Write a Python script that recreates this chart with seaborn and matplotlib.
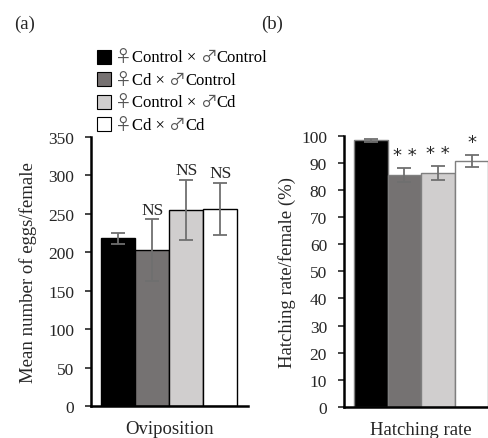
import matplotlib
matplotlib.use("Agg")
import matplotlib.pyplot as plt
import pandas as pd
import seaborn as sns
from matplotlib.offsetbox import AnchoredOffsetbox, DrawingArea, HPacker, TextArea, VPacker
from matplotlib.patches import Rectangle

groups = ["\u2640Control \u00d7 \u2642Control", "\u2640Cd \u00d7 \u2642Control",
          "\u2640Control \u00d7 \u2642Cd", "\u2640Cd \u00d7 \u2642Cd"]
colors = ["#000000", "#767171", "#d0cece", "#ffffff"]

eggs_mean = [218, 203, 255, 256]
eggs_err = [7, 40, 39, 34]
eggs_marks = ["", "NS", "NS", "NS"]

hatch_mean = [98.4, 85.6, 86.3, 90.8]
hatch_err = [0.5, 2.7, 2.5, 2.2]
hatch_marks = ["", "* *", "* *", "*"]

SERIF = ["Liberation Serif", "DejaVu Serif"]
SYMBOL = ["Noto Sans CJK JP", "DejaVu Sans"]

sns.set_style("white")
plt.rcParams["font.family"] = SERIF
plt.rcParams["font.size"] = 12.5

fig = plt.figure(figsize=(4.89, 4.39), dpi=100)
ax1 = fig.add_axes([0.186, 0.073, 0.321, 0.613])
ax2 = fig.add_axes([0.703, 0.071, 0.317, 0.617])


def draw(ax, cat, means, errs, marks, edge, ylim, step, ylabel, mark_pad, ylabelpad):
    df = pd.DataFrame({"cat": cat, "group": groups, "value": means})
    sns.barplot(data=df, x="cat", y="value", hue="group", palette=colors,
                hue_order=groups, errorbar=None, ax=ax, width=0.8,
                edgecolor=edge, linewidth=1.0, legend=False)
    bars = ax.patches[:len(groups)]
    for bar, m, e, t in zip(bars, means, errs, marks):
        xc = bar.get_x() + bar.get_width() / 2
        ax.errorbar(xc, m, yerr=e, color="#6f6f6f", capsize=5, elinewidth=1.3,
                    capthick=1.3, zorder=3)
        if t == "NS":
            ax.text(xc, m + e + mark_pad, t, ha="center", va="bottom", fontsize=12.5)
        elif t:
            # asterisks in a bolder sans face, as in the original
            ax.text(xc, m + e + mark_pad, t, ha="center", va="bottom",
                    fontsize=13, family="DejaVu Sans")
    ax.set_xlim(-0.462, 0.462)
    ax.set_ylim(*ylim)
    ax.set_yticks(range(0, ylim[1] + 1, step))
    ax.set_xticks([])
    ax.set_xlabel(cat[0], labelpad=10, fontsize=13.5)
    ax.set_ylabel(ylabel, labelpad=ylabelpad, fontsize=13.5)
    for s in ["top", "right"]:
        ax.spines[s].set_visible(False)
    for s in ["left", "bottom"]:
        ax.spines[s].set_linewidth(1.8)
        ax.spines[s].set_color("black")
    ax.tick_params(axis="y", left=True, direction="out", length=4, width=1.2,
                   pad=8, labelsize=12.5)


draw(ax1, ["Oviposition"] * 4, eggs_mean, eggs_err, eggs_marks, "black",
     (0, 350), 50, "Mean number of eggs/female", 2, 8)
draw(ax2, ["Hatching rate"] * 4, hatch_mean, hatch_err, hatch_marks, "#7f7f7f",
     (0, 100), 10, "Hatching rate/female (%)", 1.5, 4)

fig.text(0.028, 0.935, "(a)", fontsize=13.5)
fig.text(0.535, 0.935, "(b)", fontsize=13.5)


# legend built from text runs so the sex symbols can use another font
def split_runs(label):
    runs, cur, cur_sym = [], "", None
    for ch in label:
        sym = ch in "\u2640\u2642"
        if cur and sym != cur_sym:
            runs.append((cur, cur_sym))
            cur = ""
        cur += ch
        cur_sym = sym
    runs.append((cur, cur_sym))
    return runs


rows = []
for label, c in zip(groups, colors):
    box = DrawingArea(10, 10)
    box.add_artist(Rectangle((0, 0), 10, 10, facecolor=c, edgecolor="black", linewidth=0.8))
    parts = [TextArea(txt, textprops=dict(family=SYMBOL if sym else SERIF,
                                          size=12, color="#555555" if sym else "black"))
             for txt, sym in split_runs(label)]
    text = HPacker(children=parts, align="baseline", pad=0, sep=0)
    rows.append(HPacker(children=[box, text], align="center", pad=0, sep=3))

legend = AnchoredOffsetbox(loc="upper left", child=VPacker(children=rows, align="left", pad=0, sep=4),
                           bbox_to_anchor=(0.198, 0.888), bbox_transform=fig.transFigure,
                           frameon=False, pad=0, borderpad=0)
fig.add_artist(legend)

fig.savefig("out.png", dpi=100)
